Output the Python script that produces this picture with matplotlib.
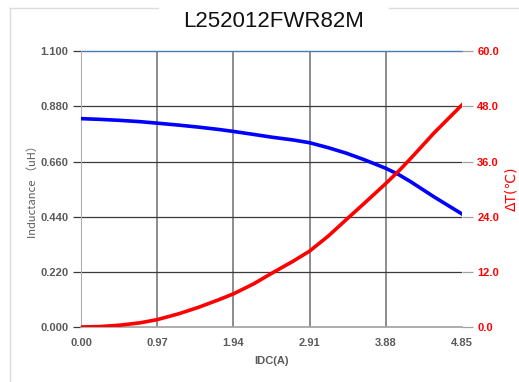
"""L252012FWR82M - inductance and temperature rise vs DC current."""

import matplotlib

matplotlib.use("Agg")
from matplotlib import pyplot as plt
from matplotlib.lines import Line2D

plt.rcParams["font.family"] = ["Liberation Sans", "DejaVu Sans"]

# =========================================================================
# Data
# =========================================================================

idc = [0.0, 0.25, 0.5, 0.75, 0.97, 1.25, 1.5, 1.75, 1.94, 2.2, 2.43, 2.7,
       2.91, 3.15, 3.38, 3.6, 3.88, 4.05, 4.2, 4.5, 4.85]
inductance = [0.831, 0.828, 0.824, 0.819, 0.813, 0.805, 0.797, 0.788, 0.780,
              0.768, 0.757, 0.746, 0.735, 0.715, 0.693, 0.668, 0.633, 0.607,
              0.579, 0.518, 0.451]
delta_t = [0.0, 0.1, 0.4, 0.9, 1.6, 2.9, 4.3, 5.9, 7.2, 9.4, 11.7, 14.3,
           16.5, 19.8, 23.4, 26.8, 31.2, 34.0, 36.7, 42.3, 48.3]

x_ticks = [0.0, 0.97, 1.94, 2.91, 3.88, 4.85]
x_tick_labels = ["0.00", "0.97", "1.94", "2.91", "3.88", "4.85"]
l_ticks = [0.0, 0.22, 0.44, 0.66, 0.88, 1.10]
t_ticks = [0.0, 12.0, 24.0, 36.0, 48.0, 60.0]

GRAY = "#5a5a5a"

fig = plt.figure(figsize=(5.19, 3.82), dpi=100, facecolor="white")
ax = fig.add_axes([0.156, 0.144, 0.734, 0.722])
ax2 = ax.twinx()

# grid
for xv in x_ticks[1:-1]:
    ax.axvline(xv, color="#8c8c8c", lw=1.4, zorder=1)
for yv in l_ticks[1:-1]:
    ax.axhline(yv, color="#3a3a3a", lw=0.9, zorder=1)
ax.axhline(l_ticks[-1], color="#4a78b0", lw=1.0, zorder=1, clip_on=False)

ax.plot(idc, inductance, color="#0000ff", lw=2.6, zorder=3)
ax2.plot(idc, delta_t, color="#ff0000", lw=2.6, zorder=3)

ax.set_xlim(0, 4.85)
ax.set_ylim(0, 1.10)
ax2.set_ylim(0, 60)

ax.set_xticks(x_ticks)
ax.set_xticklabels(x_tick_labels)
ax.set_yticks(l_ticks)
ax.set_yticklabels([f"{v:.3f}" for v in l_ticks])
ax2.set_yticks(t_ticks)
ax2.set_yticklabels([f"{v:.1f}" for v in t_ticks])

for a in (ax, ax2):
    for s in a.spines.values():
        s.set_visible(False)
ax.spines["left"].set_visible(True)
ax.spines["left"].set_color("#b0b0b0")
ax.spines["bottom"].set_visible(True)
ax.spines["bottom"].set_color("#a0a0a0")
ax.spines["bottom"].set_linewidth(1.2)

ax.tick_params(axis="x", length=0, pad=8, labelsize=8, labelcolor=GRAY)
ax.tick_params(axis="y", length=6, width=0.9, color="#3a3a3a", pad=3,
               labelsize=8, labelcolor=GRAY)
ax2.tick_params(axis="y", length=8, width=0.9, color="#a0a0a0", pad=3,
                labelsize=8, labelcolor="#ff0000")
for lbl in ax.get_xticklabels() + ax.get_yticklabels() + ax2.get_yticklabels():
    lbl.set_fontweight("bold")

ax.set_xlabel("IDC(A)", fontsize=8, color=GRAY, fontweight="bold", labelpad=6)
ax.set_ylabel("Inductance （uH）", fontsize=8, color=GRAY, labelpad=2,
              family=["Noto Sans CJK SC", "DejaVu Sans"])
ax2.set_ylabel("ΔT(℃)", fontsize=10, color="#ff0000", labelpad=4,
               family=["DejaVu Sans", "Noto Sans CJK SC"])

fig.text(0.528, 0.945, "L252012FWR82M", ha="center", va="center",
         fontsize=16, color="#111111")

# light frame around the chart
frame = dict(color="#dcdcdc", lw=1.0, transform=fig.transFigure)
fig.add_artist(Line2D([0.019, 0.019], [0.0, 0.979], **frame))
fig.add_artist(Line2D([0.019, 0.305], [0.979, 0.979], **frame))
fig.add_artist(Line2D([0.75, 1.0], [0.979, 0.979], **frame))

fig.savefig("out.png", dpi=100, facecolor=fig.get_facecolor())
plt.close(fig)
